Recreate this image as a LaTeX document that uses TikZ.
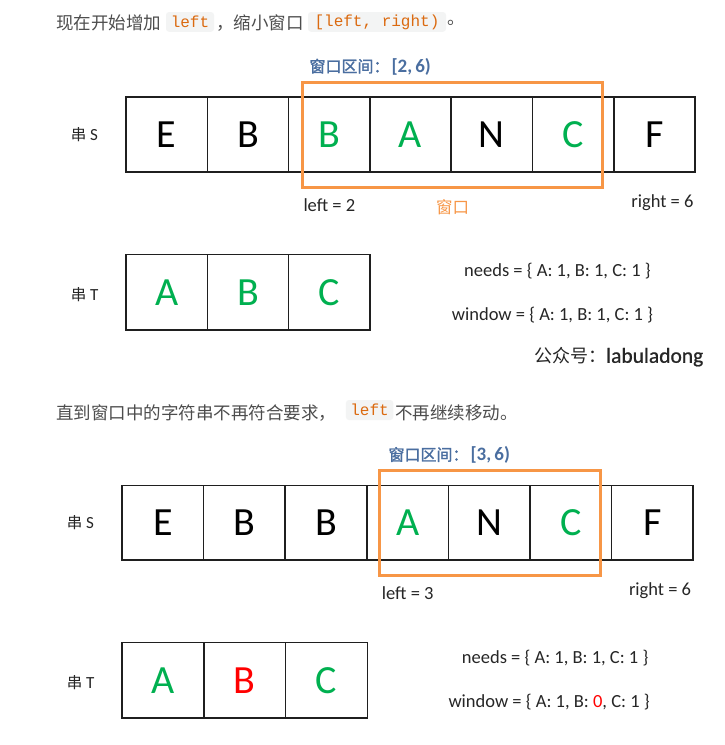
\documentclass[tikz,border=0pt]{standalone}
\usepackage{fontspec}
\setmainfont{Carlito}
\setmonofont{Liberation Mono}
\newfontfamily\cjk{Noto Sans CJK SC}
\newfontfamily\cjkbf[FakeBold=1.5]{Noto Sans CJK SC}
\newfontfamily\wmfont[FakeBold=0.8]{Carlito}
\definecolor{grn}{HTML}{00B050}
\definecolor{rd}{HTML}{FF0000}
\definecolor{orng}{HTML}{F79646}
\definecolor{wlab}{HTML}{4A6EA0}
\definecolor{body}{HTML}{4D4D4D}
\definecolor{codec}{HTML}{DB6A10}
\definecolor{codebg}{HTML}{F3F4F4}
\definecolor{lab}{HTML}{262626}
\tikzset{
  cell/.style={draw=black!88, line width=1.6pt, minimum width=81.3pt, minimum height=75pt, inner sep=0pt, font=\fontsize{40}{48}\selectfont},
  winbox/.style={draw=orng, line width=2.6pt},
  lbl/.style={inner sep=0pt, text=lab, font=\fontsize{18.5}{22}\selectfont},
  rowlbl/.style={inner sep=0pt, text=lab, font=\fontsize{17}{20}\selectfont},
  wlbl/.style={inner sep=0pt, text=wlab},
  bodytxt/.style={inner sep=0pt, text=body, font=\cjk\fontsize{17.5}{20}\selectfont},
  codebox/.style={fill=codebg, rounded corners=3pt, inner sep=0pt, text=codec, font=\ttfamily\fontsize{16}{20}\selectfont}
}
\begin{document}
\begin{tikzpicture}[x=1pt,y=-1pt]
\useasboundingbox (0,0) rectangle (724,745);
\fill[white] (0,0) rectangle (724,745);

% ---------- header 1 ----------
\node[bodytxt, anchor=west] (h1a) at (56,22.7) {现在开始增加};
\node[codebox, minimum width=48pt, minimum height=19.7pt] (h1c1) at (190,21.9) {left};
\node[bodytxt, anchor=west] (h1b) at (216,22.7) {，缩小窗口};
\node[codebox, minimum width=138pt, minimum height=19.7pt] (h1c2) at (377,21.9) {[left, right)};
\node[bodytxt, anchor=west] (h1d) at (447,22.7) {。};

% ---------- first diagram ----------
\node[wlbl, anchor=west] (w1) at (309.3,66.7) {{\cjkbf\fontsize{16}{20}\selectfont 窗口区间：}\hspace{2pt}{\bfseries\fontsize{19}{20}\selectfont [2,\,6)}};
\node[rowlbl, anchor=west] (ls1) at (70.7,135) {{\cjk\fontsize{15.5}{20}\selectfont 串} S};
\foreach \L/\C [count=\i from 0] in {E/black,B/black,B/grn,A/grn,N/black,C/grn,F/black}
  \node[cell, text=\C] (sa\i) at ({126+40.65+81.3*\i},134.7) {\L};
\draw[winbox] (302.3,82.7) rectangle (602.7,187.3);
\node[lbl, anchor=west] (left1) at (303.3,205) {left = 2};
\node[inner sep=0pt, text=orng, font=\cjk\fontsize{16.5}{20}\selectfont] (win1) at (452.5,207) {窗口};
\node[lbl, anchor=west] (right1) at (631.2,203) {right = 6};

\node[rowlbl, anchor=west] (lt1) at (70.7,295) {{\cjk\fontsize{15.5}{20}\selectfont 串} T};
\foreach \L [count=\i from 0] in {A,B,C}
  \node[cell, text=grn, minimum height=75.7pt] (ta\i) at ({126+40.65+81.3*\i},292.2) {\L};
\node[lbl, anchor=west] (need1) at (464,271.5) {needs = \{ A: 1, B: 1, C: 1 \}};
\node[lbl, anchor=west] (wind1) at (451.7,315) {window = \{ A: 1, B: 1, C: 1 \}};
\node[inner sep=0pt, anchor=west, text=black!85] (wm) at (534,357) {{\cjk\fontsize{18}{22}\selectfont 公众号：}{\wmfont\fontsize{21.5}{24}\selectfont labuladong}};

% ---------- header 2 ----------
\node[bodytxt, anchor=west] (h2a) at (56,412.7) {直到窗口中的字符串不再符合要求，};
\node[codebox, minimum width=47.3pt, minimum height=20pt] (h2c1) at (369.6,410) {left};
\node[bodytxt, anchor=west] (h2b) at (395,412.7) {不再继续移动。};

% ---------- second diagram ----------
\node[wlbl, anchor=west] (w2) at (388.3,455) {{\cjkbf\fontsize{16}{20}\selectfont 窗口区间：}\hspace{2pt}{\bfseries\fontsize{19}{20}\selectfont [3,\,6)}};
\node[rowlbl, anchor=west] (ls2) at (66.7,523) {{\cjk\fontsize{15.5}{20}\selectfont 串} S};
\foreach \L/\C [count=\i from 0] in {E/black,B/black,B/black,A/grn,N/black,C/grn,F/black}
  \node[cell, text=\C, minimum width=81.6pt, minimum height=74.7pt] (sb\i) at ({122+40.8+81.6*\i},522.7) {\L};
\draw[winbox] (379.3,470.3) rectangle (600.7,575.7);
\node[lbl, anchor=west] (left2) at (381.7,593) {left = 3};
\node[lbl, anchor=west] (right2) at (628.8,590.7) {right = 6};

\node[rowlbl, anchor=west] (lt2) at (66.7,683) {{\cjk\fontsize{15.5}{20}\selectfont 串} T};
\node[cell, text=grn, minimum width=81.8pt, minimum height=75.3pt] (tb0) at (162.9,680.3) {A};
\node[cell, text=rd, minimum width=81.8pt, minimum height=75.3pt] (tb1) at (244.7,680.3) {B};
\node[cell, text=grn, minimum width=81.8pt, minimum height=75.3pt] (tb2) at (326.5,680.3) {C};
\node[lbl, anchor=west] (need2) at (461.7,658.3) {needs = \{ A: 1, B: 1, C: 1 \}};
\node[lbl, anchor=west] (wind2) at (448.3,701.7) {window = \{ A: 1, B: \textcolor{rd}{0}, C: 1 \}};
\end{tikzpicture}
\end{document}
